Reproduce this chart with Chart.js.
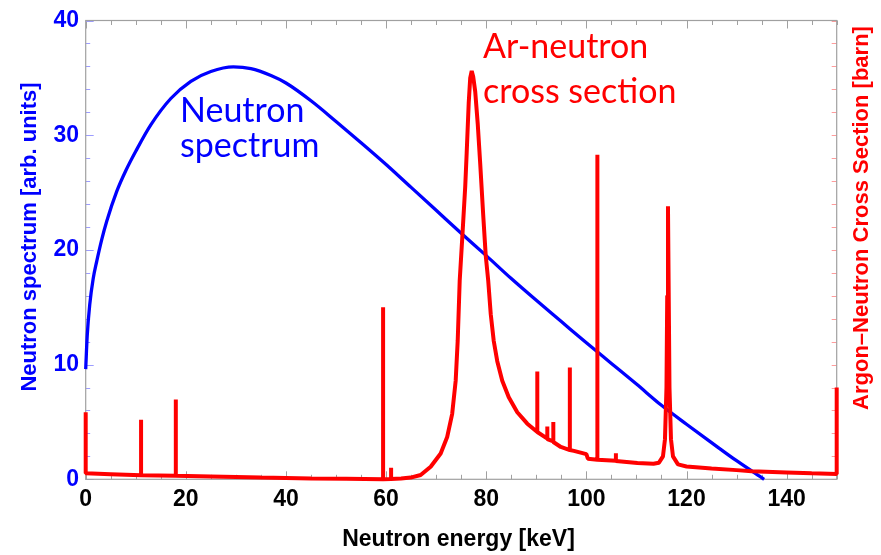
<!DOCTYPE html>
<html>
<head>
<meta charset="utf-8">
<title>Neutron spectrum and Ar-neutron cross section</title>
<script src="https://cdn.jsdelivr.net/npm/chart.js@4/dist/chart.umd.min.js"></script>
<style>
  html, body { margin: 0; padding: 0; background: #ffffff; }
  canvas { display: block; }
</style>
</head>
<body>
<canvas id="chart" width="881" height="555"></canvas>
<script>
// Neutron energy spectrum (arb. units) vs energy in keV
const spectrumEnergy = [0, 0.3, 0.8, 1.5, 2.2, 3.2, 4.2, 6.2, 8, 10, 13, 17, 21, 25, 29.5, 33, 37, 40, 45, 50, 55, 60, 65, 70, 75, 80, 85, 90, 95, 100, 105, 110, 115, 120, 125, 130, 135.5];
const spectrumValue  = [9.6, 12.5, 15.2, 17.5, 19.0, 20.9, 22.5, 25.1, 26.9, 28.6, 30.9, 33.2, 34.7, 35.55, 35.95, 35.8, 35.2, 34.55, 33.0, 31.2, 29.35, 27.45, 25.45, 23.45, 21.45, 19.5, 17.5, 15.6, 13.75, 11.9, 10.1, 8.3, 6.45, 4.8, 3.2, 1.62, 0.0];

// Ar-neutron cross section (plotted on the right-hand scale), resonances as narrow spikes
const xsecEnergy = [0, 0, 5, 11.06, 11.06, 11.06, 18.0, 18.0, 18.0, 25, 35, 45, 52, 59.4, 59.4, 59.4, 61.0, 61.0, 61.0, 63, 64.9, 66.9, 68.9, 70.9, 72.2, 73.2, 73.9, 74.3, 74.7, 75.3, 75.8, 76.1, 76.5, 76.8, 77.1, 77.4, 77.8, 78.3, 78.8, 79.4, 79.9, 80.4, 80.9, 81.5, 82.2, 83.2, 84.5, 86.2, 88.2, 90.2, 90.2, 90.2, 92.2, 92.2, 92.2, 93.4, 93.4, 93.4, 94.9, 96.7, 96.7, 96.7, 97.5, 100.0, 100.3, 102.2, 102.2, 102.2, 105.9, 105.9, 105.9, 110.2, 113.4, 114.5, 115.3, 115.7, 116.0, 116.15, 116.3, 116.45, 116.6, 116.9, 117.3, 118.3, 120, 125, 130, 133, 140, 145, 150, 150];
const xsecValue  = [5.85, 0.52, 0.45, 0.36, 5.2, 0.36, 0.3, 6.95, 0.3, 0.24, 0.15, 0.08, 0.04, 0.0, 15.0, 0.0, 0.03, 1.0, 0.03, 0.07, 0.15, 0.37, 1.09, 2.25, 3.69, 5.71, 8.6, 12.06, 17.3, 21.7, 25.5, 28.5, 32.8, 35.0, 35.6, 35.1, 33.8, 31.0, 27.5, 23.0, 19.5, 17.3, 14.4, 12.06, 10.3, 8.6, 7.15, 5.85, 4.85, 4.12, 9.4, 4.12, 3.55, 4.6, 3.5, 3.3, 5.0, 3.25, 2.82, 2.55, 9.75, 2.55, 2.48, 2.19, 1.8, 1.7, 28.3, 1.7, 1.62, 2.27, 1.6, 1.43, 1.35, 1.45, 2.0, 3.5, 8.0, 16.0, 23.8, 16.0, 8.0, 3.5, 2.0, 1.3, 1.12, 0.95, 0.8, 0.7, 0.6, 0.52, 0.46, 8.0];

// Tick positions
const energyTicks   = [0, 20, 40, 60, 80, 100, 120, 140];
const spectrumTicks = [0, 10, 20, 30, 40];

const BLUE = '#0000ff';
const RED = '#ff0000';
const TICK_FONT = { family: "'Liberation Sans', Arial, sans-serif", size: 23, weight: 'bold' };

const toPoints = (xs, ys) => xs.map((x, i) => ({ x: x, y: ys[i] }));

// Frame with inward-pointing major/minor tick marks on all four sides
const framePlugin = {
  id: 'frame',
  beforeDatasetsDraw(chart) {
    const { ctx, chartArea: a, scales } = chart;
    const xs = scales.x, yl = scales.y, yr = scales.y2;
    ctx.save();
    ctx.lineWidth = 1;
    // bottom / top ticks
    ctx.strokeStyle = '#a0a0a0';
    for (let v = 0; v <= 150; v += 5) {
      const px = Math.round(xs.getPixelForValue(v)) + 0.5;
      const len = v % 20 === 0 ? 8 : 4.5;
      ctx.beginPath();
      ctx.moveTo(px, a.bottom); ctx.lineTo(px, a.bottom - len);
      ctx.moveTo(px, a.top); ctx.lineTo(px, a.top + len);
      ctx.stroke();
    }
    // left ticks
    ctx.strokeStyle = '#9c9cff';
    for (let v = 0; v <= 40; v += 2) {
      const py = Math.round(yl.getPixelForValue(v)) + 0.5;
      const len = v % 10 === 0 ? 8 : 4.5;
      ctx.beginPath();
      ctx.moveTo(a.left, py); ctx.lineTo(a.left + len, py);
      ctx.stroke();
    }
    // right ticks
    ctx.strokeStyle = '#ff9c9c';
    for (let v = 0; v <= 40; v += 2) {
      const py = Math.round(yr.getPixelForValue(v)) + 0.5;
      ctx.beginPath();
      ctx.moveTo(a.right, py); ctx.lineTo(a.right - 5, py);
      ctx.stroke();
    }
    // frame
    ctx.strokeStyle = '#a0a0a0';
    ctx.lineWidth = 1.2;
    ctx.strokeRect(a.left, a.top, a.right - a.left, a.bottom - a.top);
    ctx.restore();
  },
  afterDraw(chart) {
    const { ctx } = chart;
    ctx.save();
    // axis titles
    ctx.font = "bold 23px 'Liberation Sans', Arial, sans-serif";
    ctx.fillStyle = '#000000';
    ctx.textAlign = 'center';
    ctx.textBaseline = 'alphabetic';
    ctx.fillText('Neutron energy [keV]', 458.5, 546);

    ctx.font = "bold 22px 'Liberation Sans', Arial, sans-serif";
    ctx.textBaseline = 'middle';
    ctx.save();
    ctx.translate(30, 237);
    ctx.rotate(-Math.PI / 2);
    ctx.fillStyle = BLUE;
    ctx.fillText('Neutron spectrum [arb. units]', 0, 0);
    ctx.restore();

    ctx.save();
    ctx.translate(862, 218);
    ctx.rotate(-Math.PI / 2);
    ctx.fillStyle = RED;
    ctx.fillText('Argon\u2013Neutron Cross Section [barn]', 0, 0);
    ctx.restore();

    // curve labels
    ctx.font = "34px Lato, 'Open Sans', sans-serif";
    ctx.textAlign = 'left';
    ctx.textBaseline = 'alphabetic';
    ctx.fillStyle = BLUE;
    ctx.fillText('Neutron', 180, 122.3);
    ctx.fillText('spectrum', 180, 157.3);
    ctx.fillStyle = RED;
    ctx.fillText('Ar-neutron', 483, 58.3);
    ctx.fillText('cross section', 483, 103.3);
    ctx.restore();
  }
};

new Chart(document.getElementById('chart'), {
  type: 'line',
  data: {
    datasets: [
      {
        label: 'Ar-neutron cross section',
        data: toPoints(xsecEnergy, xsecValue),
        yAxisID: 'y2',
        borderColor: RED,
        borderWidth: 4,
        borderJoinStyle: 'bevel',
        pointRadius: 0,
        tension: 0,
        fill: false,
        clip: 6,
        order: 0
      },
      {
        label: 'Neutron spectrum',
        data: toPoints(spectrumEnergy, spectrumValue),
        yAxisID: 'y',
        borderColor: BLUE,
        borderWidth: 3.3,
        pointRadius: 0,
        cubicInterpolationMode: 'monotone',
        fill: false,
        clip: 6,
        order: 1
      }
    ]
  },
  options: {
    responsive: false,
    animation: false,
    devicePixelRatio: 1,
    layout: { padding: { left: 0, right: 44.3, top: 16.7, bottom: 35.7 } },
    plugins: { legend: { display: false }, tooltip: { enabled: false } },
    scales: {
      x: {
        type: 'linear',
        position: 'bottom',
        min: 0,
        max: 150,
        afterBuildTicks: s => { s.ticks = energyTicks.map(v => ({ value: v })); },
        afterFit: s => { s.height = 40; },
        grid: { display: false, drawTicks: false },
        border: { display: false },
        ticks: { autoSkip: false, maxRotation: 0, padding: 6.5, color: '#000000', font: TICK_FONT }
      },
      y: {
        type: 'linear',
        position: 'left',
        min: 0,
        max: 40,
        afterBuildTicks: s => { s.ticks = spectrumTicks.map(v => ({ value: v })); },
        afterFit: s => { s.width = 85.7; },
        grid: { display: false, drawTicks: false },
        border: { display: false },
        ticks: { autoSkip: false, padding: 6.7, color: BLUE, font: TICK_FONT }
      },
      y2: {
        type: 'linear',
        position: 'right',
        min: 0,
        max: 40,
        display: false
      }
    }
  },
  plugins: [framePlugin]
});
</script>
</body>
</html>
